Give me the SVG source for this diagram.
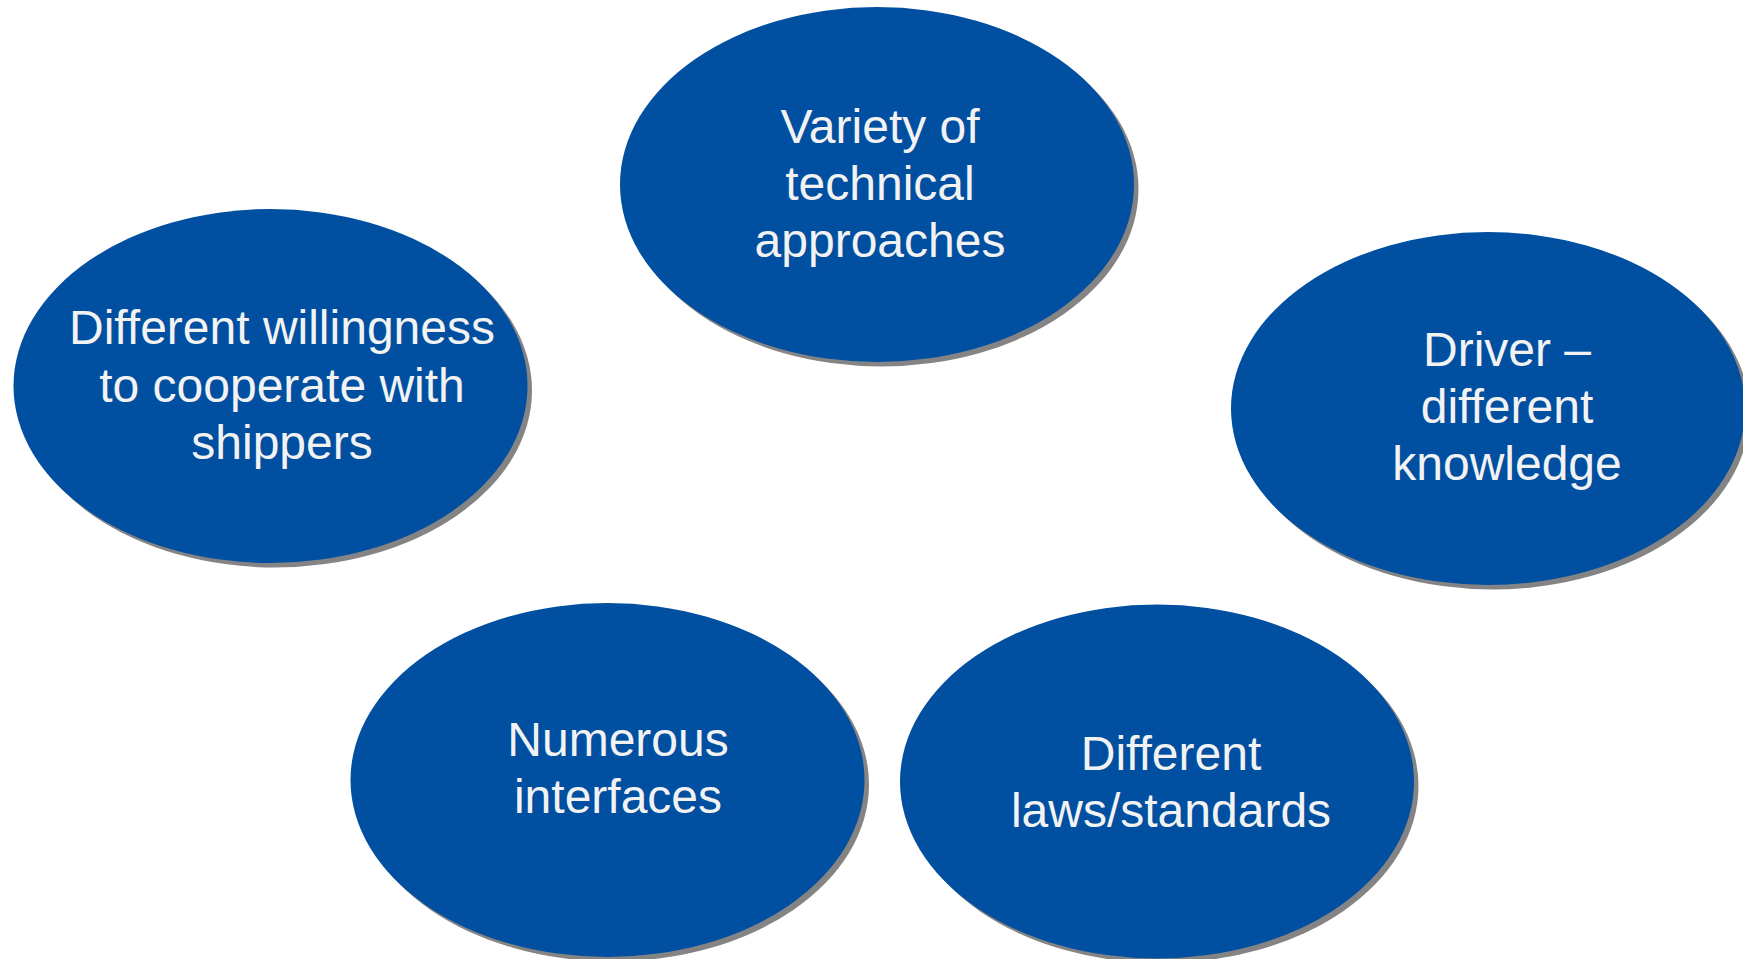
<svg xmlns="http://www.w3.org/2000/svg" width="1743" height="959" viewBox="0 0 1743 959">
<style>
.sh{fill:#848484}
.el{fill:#004FA0}
.t{font-family:"Liberation Sans",Arial,sans-serif;font-size:48px;fill:#F2F2F2;text-anchor:middle}
</style>
<rect width="1743" height="959" fill="#FFFFFF"/>
<g id="connectors"></g>
<g id="node-variety">
<ellipse class="sh" cx="881.5" cy="189" rx="257" ry="177.5"/>
<ellipse class="el" cx="877" cy="184.5" rx="257" ry="177.5"/>
<text class="t" x="880" y="143">Variety of</text>
<text class="t" x="880" y="200">technical</text>
<text class="t" x="880" y="257">approaches</text>
</g>
<g id="node-willingness">
<ellipse class="sh" cx="275" cy="390.5" rx="257" ry="177"/>
<ellipse class="el" cx="270.5" cy="386" rx="257" ry="177"/>
<text class="t" x="282" y="344">Different willingness</text>
<text class="t" x="282" y="402">to cooperate with</text>
<text class="t" x="282" y="459">shippers</text>
</g>
<g id="node-driver">
<ellipse class="sh" cx="1492.5" cy="413" rx="257" ry="176.5"/>
<ellipse class="el" cx="1488" cy="408.5" rx="257" ry="176.5"/>
<text class="t" x="1507" y="366">Driver –</text>
<text class="t" x="1507" y="423">different</text>
<text class="t" x="1507" y="480">knowledge</text>
</g>
<g id="node-interfaces">
<ellipse class="sh" cx="612" cy="784.5" rx="257" ry="177"/>
<ellipse class="el" cx="607.5" cy="780" rx="257" ry="177"/>
<text class="t" x="618" y="756">Numerous</text>
<text class="t" x="618" y="813">interfaces</text>
</g>
<g id="node-laws">
<ellipse class="sh" cx="1161.5" cy="786" rx="257" ry="177"/>
<ellipse class="el" cx="1157" cy="781.5" rx="257" ry="177"/>
<text class="t" x="1171" y="770">Different</text>
<text class="t" x="1171" y="827">laws/standards</text>
</g>
</svg>
